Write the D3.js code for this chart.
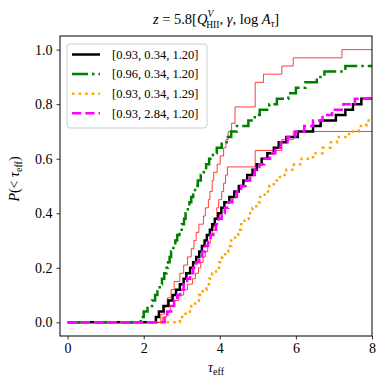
<!DOCTYPE html>
<html>
<head>
<meta charset="utf-8">
<script src="https://cdn.jsdelivr.net/npm/d3@7"></script>
<style>
  body { margin: 0; background: #fff; }
  text { font-family: "Liberation Serif", "DejaVu Serif", serif; fill: #000; }
</style>
</head>
<body>
<div id="chart"></div>
<script>
// step positions (tau_eff) and cumulative probability after each step
const tauBlack = [2.32, 2.40, 2.52, 2.65, 2.76, 2.85, 2.95, 3.05, 3.12, 3.22, 3.30, 3.38, 3.46, 3.53, 3.60, 3.66, 3.74, 3.80, 3.87, 3.96, 4.04, 4.12, 4.25, 4.38, 4.50, 4.62, 4.72, 4.86, 4.97, 5.10, 5.25, 5.42, 5.55, 5.75, 6.05, 6.45, 6.65, 7.05, 7.30, 7.50, 7.72];
const pBlack   = [0.02, 0.04, 0.06, 0.08, 0.10, 0.12, 0.14, 0.16, 0.18, 0.20, 0.22, 0.24, 0.26, 0.28, 0.30, 0.32, 0.34, 0.36, 0.38, 0.40, 0.42, 0.44, 0.46, 0.48, 0.50, 0.52, 0.54, 0.56, 0.58, 0.60, 0.62, 0.64, 0.66, 0.68, 0.70, 0.72, 0.74, 0.76, 0.78, 0.80, 0.82];

const tauGreen = [1.92, 2.00, 2.10, 2.22, 2.30, 2.36, 2.42, 2.48, 2.54, 2.60, 2.64, 2.68, 2.72, 2.78, 2.83, 2.88, 2.94, 3.00, 3.06, 3.10, 3.16, 3.20, 3.25, 3.30, 3.35, 3.42, 3.50, 3.58, 3.64, 3.72, 3.82, 3.92, 4.05, 4.18, 4.30, 4.45, 4.75, 4.92, 5.05, 5.30, 5.50, 5.80, 6.00, 6.25, 6.55, 6.75, 7.30];
const pGreen   = [0.02, 0.04, 0.06, 0.08, 0.10, 0.12, 0.14, 0.16, 0.18, 0.20, 0.22, 0.24, 0.26, 0.28, 0.30, 0.32, 0.34, 0.36, 0.38, 0.40, 0.42, 0.44, 0.46, 0.48, 0.50, 0.52, 0.54, 0.56, 0.58, 0.60, 0.62, 0.64, 0.66, 0.68, 0.70, 0.72, 0.74, 0.76, 0.78, 0.80, 0.82, 0.84, 0.86, 0.88, 0.90, 0.92, 0.94];

const tauOrange = [2.95, 3.10, 3.25, 3.35, 3.45, 3.55, 3.65, 3.72, 3.80, 3.90, 3.98, 4.06, 4.14, 4.22, 4.30, 4.40, 4.48, 4.56, 4.65, 4.76, 4.86, 4.96, 5.06, 5.18, 5.30, 5.42, 5.58, 5.75, 5.95, 6.15, 6.45, 6.70, 6.92, 7.08, 7.40, 7.65, 7.85];
const pOrange   = [0.02, 0.04, 0.06, 0.08, 0.10, 0.12, 0.14, 0.16, 0.18, 0.20, 0.22, 0.24, 0.26, 0.28, 0.30, 0.32, 0.34, 0.36, 0.38, 0.40, 0.42, 0.44, 0.46, 0.48, 0.50, 0.52, 0.54, 0.56, 0.58, 0.60, 0.62, 0.64, 0.66, 0.68, 0.70, 0.72, 0.74];

const tauMagenta = [2.55, 2.62, 2.72, 2.80, 2.88, 2.96, 3.05, 3.14, 3.22, 3.30, 3.38, 3.46, 3.54, 3.62, 3.69, 3.76, 3.83, 3.90, 3.97, 4.05, 4.13, 4.22, 4.33, 4.45, 4.56, 4.68, 4.80, 4.92, 5.04, 5.17, 5.32, 5.46, 5.60, 5.78, 5.98, 6.22, 6.45, 6.70, 6.95, 7.25, 7.55];
const pMagenta   = [0.02, 0.04, 0.06, 0.08, 0.10, 0.12, 0.14, 0.16, 0.18, 0.20, 0.22, 0.24, 0.26, 0.28, 0.30, 0.32, 0.34, 0.36, 0.38, 0.40, 0.42, 0.44, 0.46, 0.48, 0.50, 0.52, 0.54, 0.56, 0.58, 0.60, 0.62, 0.64, 0.66, 0.68, 0.70, 0.72, 0.74, 0.76, 0.78, 0.80, 0.82];

// observed bounds (thin red)
const tauObsHi = [2.45, 2.55, 2.62, 2.72, 2.80, 2.95, 3.05, 3.15, 3.25, 3.32, 3.38, 3.45, 3.57, 3.62, 3.70, 3.74, 3.80, 3.84, 3.93, 4.01, 4.10, 4.16, 4.22, 4.31, 4.40, 4.93, 5.15, 5.63, 5.93, 7.21];
const pObsHi   = [0.03, 0.06, 0.09, 0.12, 0.15, 0.18, 0.21, 0.24, 0.27, 0.30, 0.33, 0.36, 0.39, 0.42, 0.45, 0.48, 0.52, 0.55, 0.58, 0.61, 0.64, 0.67, 0.70, 0.73, 0.79, 0.88, 0.91, 0.94, 0.97, 1.00];
const tauObsLo = [2.50, 2.60, 2.70, 2.80, 2.92, 3.05, 3.15, 3.28, 3.36, 3.44, 3.50, 3.56, 3.62, 3.68, 3.75, 3.80, 3.86, 3.92, 3.97, 4.05, 4.10, 4.15, 4.20, 4.93, 5.63, 5.93];
const pObsLo   = [0.02, 0.04, 0.06, 0.08, 0.10, 0.12, 0.14, 0.16, 0.18, 0.20, 0.22, 0.24, 0.26, 0.29, 0.32, 0.35, 0.38, 0.42, 0.45, 0.48, 0.51, 0.54, 0.57, 0.63, 0.67, 0.70];

const labels = ["[0.93, 0.34, 1.20]", "[0.96, 0.34, 1.20]", "[0.93, 0.34, 1.29]", "[0.93, 2.84, 1.20]"];
const xTicks = [0, 2, 4, 6, 8];
const yTicks = [0, 0.2, 0.4, 0.6, 0.8, 1.0];

const margin = {top: 36, right: 18, bottom: 54, left: 60},
      width = 390 - margin.left - margin.right,
      height = 390 - margin.top - margin.bottom;

const svg = d3.select("#chart")
  .append("svg")
  .attr("width", 390)
  .attr("height", 390)
  .append("g")
  .attr("transform", `translate(${margin.left}, ${margin.top})`);

const x = d3.scaleLinear().domain([-0.2, 8]).range([0, width]);
const y = d3.scaleLinear().domain([-0.05, 1.05]).range([height, 0]);

svg.append("clipPath").attr("id", "clip")
  .append("rect").attr("width", width).attr("height", height);

function steps(tau, p) {
  const pts = [[0, 0]];
  tau.forEach((t, i) => pts.push([t, p[i]]));
  pts.push([8.2, p[p.length - 1]]);
  return pts;
}

const line = d3.line()
  .x(d => x(d[0]))
  .y(d => y(d[1]))
  .curve(d3.curveStepAfter);

const plot = svg.append("g").attr("clip-path", "url(#clip)");

// red observational curves first
[[tauObsHi, pObsHi], [tauObsLo, pObsLo]].forEach(s => {
  plot.append("path")
    .attr("d", line(steps(s[0], s[1])))
    .attr("fill", "none")
    .attr("stroke", "red")
    .attr("stroke-opacity", 0.85)
    .attr("stroke-width", 0.9);
});

const series = [
  {tau: tauBlack, p: pBlack, color: "black", dash: null},
  {tau: tauGreen, p: pGreen, color: "green", dash: "16,4,2.5,4"},
  {tau: tauOrange, p: pOrange, color: "orange", dash: "2.5,4.1"},
  {tau: tauMagenta, p: pMagenta, color: "magenta", dash: "9.3,4"}
];

series.forEach(s => {
  plot.append("path")
    .attr("d", line(steps(s.tau, s.p)))
    .attr("fill", "none")
    .attr("stroke", s.color)
    .attr("stroke-width", 2.5)
    .attr("stroke-dasharray", s.dash);
});

// axes
const xAxis = svg.append("g")
  .attr("transform", `translate(0, ${height})`)
  .call(d3.axisBottom(x).tickValues(xTicks).tickFormat(d3.format("d")).tickSize(3.5).tickPadding(4));
const yAxis = svg.append("g")
  .call(d3.axisLeft(y).tickValues(yTicks).tickFormat(d3.format(".1f")).tickSize(3.5).tickPadding(4));
[xAxis, yAxis].forEach(a => {
  a.select(".domain").remove();
  a.selectAll("text").style("font-family", "Liberation Serif, serif").style("font-size", "14px");
  a.selectAll("line").attr("stroke", "#000").attr("stroke-width", 0.8);
});

svg.append("rect")
  .attr("width", width).attr("height", height)
  .attr("fill", "none").attr("stroke", "#000").attr("stroke-width", 1);

// legend
const leg = svg.append("g").attr("transform", "translate(7, 8)");
leg.append("rect")
  .attr("width", 140).attr("height", 84).attr("rx", 3)
  .attr("fill", "#fff").attr("fill-opacity", 0.8)
  .attr("stroke", "#ccc").attr("stroke-width", 1);
series.forEach((s, i) => {
  const yy = 10.5 + i * 19.6;
  leg.append("line")
    .attr("x1", 5).attr("x2", 33).attr("y1", yy).attr("y2", yy)
    .attr("stroke", s.color).attr("stroke-width", 2.5)
    .attr("stroke-dasharray", s.dash);
  leg.append("text")
    .attr("x", 45).attr("y", yy).attr("dy", "0.35em")
    .style("font-size", "12.5px")
    .text(labels[i]);
});

// title  z = 5.8[Q^V_HII, γ, log A_τ]
const title = svg.append("text")
  .attr("x", width / 2).attr("y", -12)
  .attr("text-anchor", "middle")
  .style("font-size", "14.5px");
title.append("tspan").style("font-style", "italic").text("z");
title.append("tspan").text(" = 5.8[");
title.append("tspan").style("font-style", "italic").text("Q");
title.append("tspan").style("font-style", "italic").style("font-size", "9.5px").attr("dy", -7).text("V");
title.append("tspan").style("font-size", "9.5px").attr("dx", -7).attr("dy", 11).text("HII");
title.append("tspan").attr("dy", -4).text(", ");
title.append("tspan").style("font-style", "italic").text("γ");
title.append("tspan").text(", log ");
title.append("tspan").style("font-style", "italic").text("A");
title.append("tspan").style("font-style", "italic").style("font-size", "10px").attr("dy", 3).text("τ");
title.append("tspan").attr("dy", -3).text("]");

// x label
const xl = svg.append("text")
  .attr("x", width / 2).attr("y", height + 36)
  .attr("text-anchor", "middle")
  .style("font-size", "14px");
xl.append("tspan").style("font-style", "italic").text("τ");
xl.append("tspan").style("font-size", "10px").attr("dy", 3).text("eff");

// y label
const yl = svg.append("text")
  .attr("transform", `translate(${-41}, ${height / 2 - 7}) rotate(-90)`)
  .attr("text-anchor", "middle")
  .style("font-size", "14px");
yl.append("tspan").style("font-style", "italic").text("P");
yl.append("tspan").text("(< ");
yl.append("tspan").style("font-style", "italic").text("τ");
yl.append("tspan").style("font-size", "10px").attr("dy", 3).text("eff");
yl.append("tspan").attr("dy", -3).text(")");
</script>
</body>
</html>
